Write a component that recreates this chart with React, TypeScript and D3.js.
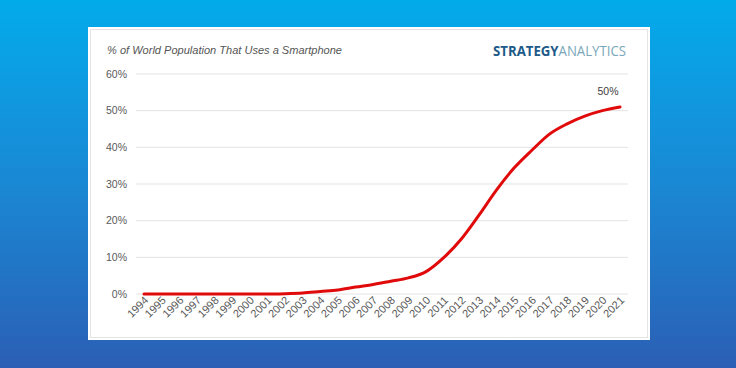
import React from "react";
import * as d3 from "d3";

const years = [1994,1995,1996,1997,1998,1999,2000,2001,2002,2003,2004,2005,2006,2007,2008,2009,2010,2011,2012,2013,2014,2015,2016,2017,2018,2019,2020,2021];
const share = [0,0,0,0,0,0,0,0,0.1,0.3,0.7,1.1,1.9,2.6,3.5,4.4,6.1,9.9,15,21.5,28.4,34.4,39.2,43.6,46.4,48.5,50,51];
const yTicks = [0,10,20,30,40,50,60];
const title = "% of World Population That Uses a Smartphone";
const endLabel = "50%";

export default function App() {
  const W = 736, H = 368;
  const x = d3.scaleLinear().domain([1994, 2021]).range([144, 620]);
  const y = d3.scaleLinear().domain([0, 60]).range([294, 74]);
  const line = d3.line<number>().x((_, i) => x(years[i])).y(d => y(d)).curve(d3.curveMonotoneX);
  const font = "Arial, 'Liberation Sans', sans-serif";
  return (
    <svg width={W} height={H} style={{ position: "absolute", left: 0, top: 0 }}>
      <defs>
        <linearGradient id="bg" x1="0" y1="0" x2="0" y2="1">
          <stop offset="0" stopColor="#03abeb" />
          <stop offset="0.5" stopColor="#1a88d4" />
          <stop offset="1" stopColor="#2b5fb5" />
        </linearGradient>
      </defs>
      <rect width={W} height={H} fill="url(#bg)" />
      <rect x={88} y={27} width={562} height={313} fill="#ffffff" />
      <rect x={90.5} y={29.5} width={557} height={308} fill="none" stroke="#e4e4e4" />
      <text x={107} y={54} fontFamily={font} fontStyle="italic" fontSize={11.5} fill="#555" textLength={235} lengthAdjust="spacingAndGlyphs">{title}</text>
      <text x={626} y={56} textAnchor="end" fontFamily="'Open Sans', 'Noto Sans', sans-serif" fontSize={14} textLength={133} lengthAdjust="spacingAndGlyphs">
        <tspan fill="#1d5a88" fontWeight="bold">STRATEGY</tspan>
        <tspan fill="#7aa7b9">ANALYTICS</tspan>
      </text>
      {yTicks.map(t => (
        <g key={t}>
          <line x1={136} x2={628} y1={y(t)} y2={y(t)} stroke="#e3e3e3" strokeWidth={1} />
          <text x={127} y={y(t) + 3.5} textAnchor="end" fontFamily={font} fontSize={10.5} fill="#595959">{t}%</text>
        </g>
      ))}
      {years.map(yr => (
        <text key={yr} transform={`translate(${x(yr) + 5},${301}) rotate(-45)`} textAnchor="end" fontFamily={font} fontSize={11} fill="#595959">{yr}</text>
      ))}
      <path d={line(share) || ""} fill="none" stroke="#e00a0a" strokeWidth={3} strokeLinecap="round" />
      <text x={608} y={95} textAnchor="middle" fontFamily={font} fontSize={10.5} fill="#404040">{endLabel}</text>
    </svg>
  );
}
